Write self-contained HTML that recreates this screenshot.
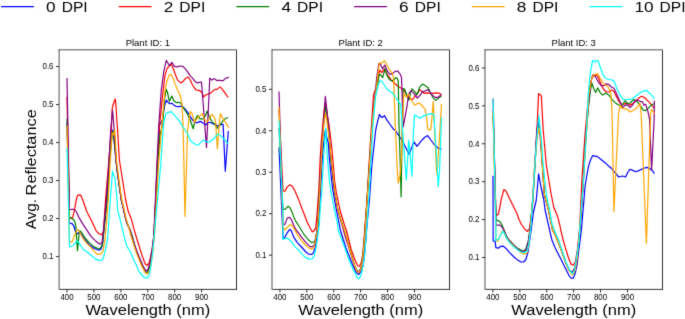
<!DOCTYPE html><html><head><meta charset="utf-8"><style>html,body{margin:0;padding:0;background:#fff;width:685px;height:319px;overflow:hidden}svg{display:block;will-change:transform}text{font-family:"Liberation Sans",sans-serif;fill:#000}</style></head><body>
<svg width="685" height="319" viewBox="0 0 685 319">
<defs>
<filter id="bl" x="0" y="0" width="685" height="319" filterUnits="userSpaceOnUse" color-interpolation-filters="sRGB"><feConvolveMatrix order="3" kernelMatrix="0.01134 0.08382 0.01134 0.08382 0.61935 0.08382 0.01134 0.08382 0.01134" edgeMode="none" preserveAlpha="false"/></filter>
<clipPath id="c0"><rect x="59.10" y="49.85" width="177.40" height="239.55"/></clipPath>
<clipPath id="c1"><rect x="272.00" y="49.85" width="177.50" height="239.55"/></clipPath>
<clipPath id="c2"><rect x="485.00" y="49.85" width="177.50" height="239.55"/></clipPath>
</defs>
<rect width="685" height="319" fill="#fff"/>
<g filter="url(#bl)">
<line x1="1.05" y1="6.6" x2="33.85" y2="6.6" stroke="#0000ff" stroke-width="1.05"/>
<text x="46.05" y="12.0" font-size="15.3" textLength="9.6" lengthAdjust="spacingAndGlyphs">0</text>
<text x="61.65" y="12.0" font-size="15.3" textLength="26.0" lengthAdjust="spacingAndGlyphs">DPI</text>
<line x1="118.74" y1="6.6" x2="151.54" y2="6.6" stroke="#ff0000" stroke-width="1.05"/>
<text x="163.74" y="12.0" font-size="15.3" textLength="9.6" lengthAdjust="spacingAndGlyphs">2</text>
<text x="179.34" y="12.0" font-size="15.3" textLength="26.0" lengthAdjust="spacingAndGlyphs">DPI</text>
<line x1="236.43" y1="6.6" x2="269.23" y2="6.6" stroke="#008000" stroke-width="1.05"/>
<text x="281.43" y="12.0" font-size="15.3" textLength="9.6" lengthAdjust="spacingAndGlyphs">4</text>
<text x="297.03" y="12.0" font-size="15.3" textLength="26.0" lengthAdjust="spacingAndGlyphs">DPI</text>
<line x1="354.12" y1="6.6" x2="386.92" y2="6.6" stroke="#800080" stroke-width="1.05"/>
<text x="399.12" y="12.0" font-size="15.3" textLength="9.6" lengthAdjust="spacingAndGlyphs">6</text>
<text x="414.72" y="12.0" font-size="15.3" textLength="26.0" lengthAdjust="spacingAndGlyphs">DPI</text>
<line x1="471.81" y1="6.6" x2="504.61" y2="6.6" stroke="#ffa500" stroke-width="1.05"/>
<text x="516.81" y="12.0" font-size="15.3" textLength="9.6" lengthAdjust="spacingAndGlyphs">8</text>
<text x="532.41" y="12.0" font-size="15.3" textLength="26.0" lengthAdjust="spacingAndGlyphs">DPI</text>
<line x1="589.50" y1="6.6" x2="622.30" y2="6.6" stroke="#00ffff" stroke-width="1.05"/>
<text x="634.50" y="12.0" font-size="15.3" textLength="19.2" lengthAdjust="spacingAndGlyphs">10</text>
<text x="659.50" y="12.0" font-size="15.3" textLength="26.0" lengthAdjust="spacingAndGlyphs">DPI</text>
<g clip-path="url(#c0)" fill="none" stroke-width="1.2" stroke-linejoin="round" stroke-linecap="butt">
<polyline points="67.00,123.0 69.50,223.2 72.20,223.6 74.00,226.4 75.30,231.3 77.00,234.0 79.50,232.0 81.60,234.5 84.70,239.5 89.10,244.6 94.10,248.5 99.10,250.3 101.00,249.0 102.50,245.0 105.50,215.0 108.50,175.0 110.50,150.0 112.50,130.0 113.60,134.0 115.00,150.0 117.00,170.0 121.30,200.0 123.20,207.5 125.10,216.3 127.00,223.2 130.10,230.0 132.60,237.6 136.00,250.0 139.50,259.0 142.80,267.0 145.50,272.0 147.50,272.0 150.10,264.0 152.50,250.0 154.00,235.0 157.50,165.0 159.50,125.0 162.50,120.1 164.40,106.3 166.30,100.0 168.20,102.6 170.00,103.8 171.90,103.2 173.80,105.1 175.70,106.3 178.20,106.6 181.30,106.3 183.80,107.6 187.00,111.3 190.10,116.3 192.60,120.1 195.00,122.6 197.50,122.6 200.00,121.4 202.50,122.6 205.50,125.0 208.00,122.5 210.50,122.5 213.00,123.8 215.60,124.4 218.10,126.3 221.20,124.4 223.10,124.4 225.30,171.3 228.30,131.0" stroke="#0000ff"/>
<polyline points="67.00,97.0 69.50,218.2 72.50,218.2 74.70,208.8 76.50,198.8 77.50,195.3 80.30,194.8 81.60,196.9 84.10,203.8 86.60,211.3 90.30,218.2 93.50,225.1 96.00,230.6 99.10,233.8 101.60,234.8 103.50,231.3 105.50,200.0 108.50,165.0 111.30,130.0 112.30,107.6 112.90,105.7 114.40,100.7 115.30,99.0 116.00,106.3 116.90,121.3 117.60,130.0 119.40,160.0 125.70,200.0 128.20,211.3 131.30,218.8 133.90,228.8 135.70,235.0 138.80,245.0 141.90,255.1 145.10,263.8 147.00,265.3 148.90,263.5 150.60,257.0 152.40,247.0 153.90,235.0 157.20,165.0 159.60,125.0 163.20,90.0 165.00,75.1 166.90,68.8 168.80,66.3 171.30,64.4 173.20,68.2 175.10,73.8 177.60,80.1 180.70,82.9 183.20,81.3 185.70,78.2 188.20,77.0 190.00,79.5 192.50,85.0 194.50,88.0 196.30,90.0 199.40,90.6 201.90,92.5 203.80,96.9 205.70,95.0 208.20,94.0 210.70,93.2 213.20,90.6 215.10,89.4 217.00,89.4 220.10,86.9 222.00,88.8 225.10,93.2 228.20,97.5" stroke="#ff0000"/>
<polyline points="67.00,118.8 69.50,217.0 71.50,218.2 74.00,220.1 75.30,223.2 75.90,227.6 77.50,250.7 79.00,235.0 79.70,230.6 81.60,232.5 84.70,237.5 89.10,242.6 94.10,246.9 98.50,248.8 100.40,248.2 102.20,245.1 105.00,220.0 107.50,200.0 109.60,160.0 111.50,138.0 112.60,131.0 113.60,135.0 115.00,150.0 117.00,170.0 121.30,200.0 123.20,207.5 125.10,216.3 127.00,223.2 130.10,230.0 132.60,237.6 136.00,250.0 139.50,259.0 142.80,267.0 145.50,272.5 147.50,272.5 150.10,265.0 152.50,251.0 154.20,235.0 157.80,165.0 160.00,135.0 162.50,125.0 164.40,100.0 166.30,89.4 167.50,92.5 169.40,101.3 171.90,96.0 173.80,100.7 176.30,102.6 178.80,102.3 180.70,103.2 182.00,105.7 184.50,109.5 187.60,114.5 190.40,120.5 193.20,128.8 195.10,120.0 197.50,115.5 200.00,118.9 203.00,118.8 205.50,115.6 207.20,111.0 209.30,116.9 211.80,121.3 214.30,123.8 217.40,128.2 219.90,125.0 222.50,121.3 225.00,118.8 228.10,117.5" stroke="#008000"/>
<polyline points="67.00,78.0 69.50,209.5 74.00,209.4 76.50,211.9 79.00,217.6 82.80,223.9 87.20,230.6 91.00,236.3 95.30,240.7 99.10,243.8 101.00,243.8 102.20,241.3 104.00,225.0 106.30,200.0 108.80,165.0 110.70,130.0 112.50,110.5 113.20,117.0 114.00,128.0 116.00,160.0 118.50,180.0 121.30,200.0 123.20,207.5 125.10,216.3 127.00,223.2 130.10,230.0 131.30,235.0 135.00,246.3 138.80,256.3 142.60,265.1 145.70,270.7 147.60,270.1 150.10,262.6 152.40,247.5 153.90,235.0 156.90,165.0 158.80,125.0 161.30,90.0 163.80,71.3 166.30,60.3 169.40,65.7 171.90,62.3 174.50,66.3 177.00,66.9 180.10,66.0 182.90,66.3 185.70,69.4 188.20,72.6 190.00,75.7 192.50,78.2 195.00,81.3 196.90,82.9 199.40,82.4 201.50,82.0 206.50,147.5 209.80,78.2 211.90,80.1 214.50,78.6 217.00,80.7 218.80,80.1 220.70,80.7 223.20,80.7 225.70,78.2 227.60,77.6 228.90,77.3" stroke="#800080"/>
<polyline points="67.00,125.5 69.50,241.9 72.20,241.9 74.70,235.0 77.20,229.4 78.40,230.0 80.30,233.2 82.80,238.2 86.60,243.2 91.60,248.2 95.30,252.6 97.90,254.5 101.00,253.8 102.90,251.3 105.00,240.0 108.20,200.0 110.00,165.0 112.20,133.0 113.50,135.0 114.80,130.0 116.50,160.0 119.00,180.0 121.80,200.0 123.70,207.5 125.60,216.3 127.50,223.2 129.50,230.0 130.70,235.0 136.30,252.6 141.30,265.1 145.10,272.6 147.60,273.9 150.10,268.9 152.60,253.8 154.50,235.0 158.50,165.0 161.90,125.0 165.00,90.0 166.90,81.3 169.40,74.5 171.30,75.1 173.20,78.8 175.10,83.9 177.60,90.0 180.10,95.0 182.00,103.8 183.20,130.0 185.00,216.4 187.60,130.0 190.10,111.5 191.90,113.2 194.40,122.6 196.90,118.9 199.50,116.0 202.40,113.8 204.30,118.8 206.80,121.9 209.30,118.8 211.80,114.4 214.30,116.9 215.60,121.9 217.40,148.8 219.30,122.5 220.40,113.7 223.10,118.8 225.60,122.5 228.70,127.6" stroke="#ffa500"/>
<polyline points="67.00,147.5 69.50,246.3 71.50,246.6 73.40,245.1 76.50,241.1 78.40,241.9 80.30,245.1 83.40,249.5 87.20,252.0 91.60,255.7 95.30,258.9 98.50,260.4 101.60,260.1 103.50,257.6 107.50,240.0 110.30,200.0 112.50,171.3 115.00,178.8 116.90,197.6 117.60,210.0 120.00,218.8 122.60,230.0 124.50,237.6 126.90,246.3 130.00,251.3 133.80,260.1 136.30,265.0 138.80,271.4 141.00,274.0 144.50,277.6 147.00,278.2 148.80,276.3 150.70,267.5 152.40,255.0 160.70,165.0 163.50,125.0 165.70,113.8 167.50,112.6 171.30,111.6 174.40,115.1 177.60,118.9 180.70,122.6 181.50,125.0 185.10,130.0 187.60,133.8 190.10,140.1 192.60,142.6 195.70,144.5 198.20,145.1 200.70,142.6 203.00,140.1 205.50,141.3 208.00,142.0 210.50,141.3 213.00,139.5 215.60,136.3 217.80,133.8 219.90,135.1 222.50,137.6 225.00,140.1 228.10,143.9" stroke="#00ffff"/>
</g>
<path d="M59.10,49.45 V289.79999999999995 M58.70,49.85 H236.90" fill="none" stroke="#000" stroke-opacity="0.86" stroke-width="0.8"/>
<path d="M236.50,50.25 V289.79999999999995 M59.50,289.4 H236.90" fill="none" stroke="#000" stroke-width="0.8"/>
<line x1="56.00" y1="256.58" x2="59.10" y2="256.58" stroke="#000" stroke-width="0.8"/>
<text x="53.50" y="259.33" font-size="8.4" text-anchor="end" textLength="11.0" lengthAdjust="spacingAndGlyphs">0.1</text>
<line x1="56.00" y1="218.57" x2="59.10" y2="218.57" stroke="#000" stroke-width="0.8"/>
<text x="53.50" y="221.32" font-size="8.4" text-anchor="end" textLength="11.0" lengthAdjust="spacingAndGlyphs">0.2</text>
<line x1="56.00" y1="180.57" x2="59.10" y2="180.57" stroke="#000" stroke-width="0.8"/>
<text x="53.50" y="183.32" font-size="8.4" text-anchor="end" textLength="11.0" lengthAdjust="spacingAndGlyphs">0.3</text>
<line x1="56.00" y1="142.56" x2="59.10" y2="142.56" stroke="#000" stroke-width="0.8"/>
<text x="53.50" y="145.31" font-size="8.4" text-anchor="end" textLength="11.0" lengthAdjust="spacingAndGlyphs">0.4</text>
<line x1="56.00" y1="104.56" x2="59.10" y2="104.56" stroke="#000" stroke-width="0.8"/>
<text x="53.50" y="107.31" font-size="8.4" text-anchor="end" textLength="11.0" lengthAdjust="spacingAndGlyphs">0.5</text>
<line x1="56.00" y1="66.55" x2="59.10" y2="66.55" stroke="#000" stroke-width="0.8"/>
<text x="53.50" y="69.30" font-size="8.4" text-anchor="end" textLength="11.0" lengthAdjust="spacingAndGlyphs">0.6</text>
<line x1="67.00" y1="289.4" x2="67.00" y2="292.50" stroke="#000" stroke-width="0.8"/>
<text x="67.00" y="299.80" font-size="8.4" text-anchor="middle" textLength="13.2" lengthAdjust="spacingAndGlyphs">400</text>
<line x1="93.92" y1="289.4" x2="93.92" y2="292.50" stroke="#000" stroke-width="0.8"/>
<text x="93.92" y="299.80" font-size="8.4" text-anchor="middle" textLength="13.2" lengthAdjust="spacingAndGlyphs">500</text>
<line x1="120.84" y1="289.4" x2="120.84" y2="292.50" stroke="#000" stroke-width="0.8"/>
<text x="120.84" y="299.80" font-size="8.4" text-anchor="middle" textLength="13.2" lengthAdjust="spacingAndGlyphs">600</text>
<line x1="147.76" y1="289.4" x2="147.76" y2="292.50" stroke="#000" stroke-width="0.8"/>
<text x="147.76" y="299.80" font-size="8.4" text-anchor="middle" textLength="13.2" lengthAdjust="spacingAndGlyphs">700</text>
<line x1="174.68" y1="289.4" x2="174.68" y2="292.50" stroke="#000" stroke-width="0.8"/>
<text x="174.68" y="299.80" font-size="8.4" text-anchor="middle" textLength="13.2" lengthAdjust="spacingAndGlyphs">800</text>
<line x1="201.60" y1="289.4" x2="201.60" y2="292.50" stroke="#000" stroke-width="0.8"/>
<text x="201.60" y="299.80" font-size="8.4" text-anchor="middle" textLength="13.2" lengthAdjust="spacingAndGlyphs">900</text>
<text x="147.80" y="46.2" font-size="9.8" text-anchor="middle" textLength="44.3" lengthAdjust="spacingAndGlyphs">Plant ID: 1</text>
<text x="147.80" y="315.4" font-size="14" text-anchor="middle" textLength="124.8" lengthAdjust="spacingAndGlyphs">Wavelength (nm)</text>
<g clip-path="url(#c1)" fill="none" stroke-width="1.2" stroke-linejoin="round" stroke-linecap="butt">
<polyline points="279.00,147.5 283.00,238.2 284.80,237.6 287.30,232.6 289.80,229.4 291.30,230.7 293.60,236.9 297.30,242.6 301.10,246.5 305.40,251.5 308.50,254.1 311.70,254.5 313.60,252.6 315.40,246.3 317.30,235.0 318.60,225.0 320.00,200.0 322.20,160.0 323.80,142.0 325.50,129.0 326.80,138.0 328.30,142.6 329.30,157.6 331.60,180.0 332.80,190.0 336.00,208.0 339.40,225.0 340.30,230.0 346.00,248.0 352.60,265.0 356.00,272.0 358.70,274.6 361.20,271.0 363.20,265.0 365.00,250.0 367.00,225.0 369.40,200.0 371.90,165.0 375.70,130.0 377.60,121.3 379.40,114.5 381.90,117.6 384.50,115.7 387.00,120.1 390.10,124.5 393.20,128.9 395.00,130.0 397.60,133.8 400.10,137.5 402.60,141.3 405.10,146.3 407.60,151.3 409.10,154.5 410.70,150.1 412.60,145.1 413.90,141.9 417.00,146.3 420.80,141.3 424.50,137.5 427.70,135.6 430.80,140.0 434.60,145.0 438.30,148.2 441.60,149.4" stroke="#0000ff"/>
<polyline points="279.00,110.0 283.00,190.7 284.80,191.3 287.30,186.9 290.00,184.8 292.30,186.3 294.80,190.7 297.30,196.3 299.80,202.6 302.30,209.5 304.80,215.7 307.30,222.5 310.50,228.8 312.40,231.9 314.20,230.6 315.80,227.5 317.00,215.0 318.80,190.0 320.10,160.0 321.20,142.6 323.20,120.0 324.80,104.0 325.60,103.0 326.50,110.0 329.00,125.0 331.20,142.6 332.70,157.6 334.50,180.0 336.20,192.0 340.00,210.0 344.40,225.0 346.30,230.0 351.30,250.0 355.00,260.0 357.60,265.7 359.40,266.3 361.30,262.5 362.60,255.0 363.20,250.0 365.10,225.0 367.00,200.0 369.00,165.0 371.20,130.0 373.50,95.0 377.50,83.8 378.80,73.8 380.00,70.0 381.90,72.6 384.40,68.8 386.30,72.6 388.20,75.7 391.30,80.1 395.10,83.8 398.90,87.0 401.30,88.2 403.80,90.1 405.50,93.0 407.50,96.3 410.00,98.8 412.50,99.5 415.00,96.3 417.60,93.2 419.70,89.6 422.10,91.5 424.40,93.3 427.20,92.9 430.10,93.3 432.90,93.3 435.70,92.9 439.50,93.3 441.50,94.8" stroke="#ff0000"/>
<polyline points="279.00,128.0 283.00,209.5 285.40,209.1 287.90,206.3 289.80,207.6 291.70,211.3 293.60,216.4 295.40,220.6 299.80,227.5 303.60,233.8 308.00,239.5 311.70,242.6 313.60,242.0 314.80,241.3 316.70,232.5 317.90,225.0 319.30,195.0 321.20,160.0 322.20,142.6 323.60,125.0 325.20,106.0 326.70,114.0 328.60,130.0 330.50,155.0 334.60,192.0 338.00,210.0 342.50,225.0 344.20,230.0 350.00,250.0 354.80,266.0 357.00,270.5 358.60,272.0 360.80,268.5 362.80,257.0 364.30,240.0 366.30,210.0 368.40,180.0 370.40,150.0 372.50,120.0 374.80,100.0 376.50,90.0 378.20,80.1 379.40,73.8 381.30,75.7 382.60,77.6 385.10,68.8 386.90,75.1 388.80,78.8 391.30,80.7 393.80,80.1 395.70,77.6 397.60,78.8 398.30,82.0 399.00,125.0 400.30,165.0 401.10,197.0 401.60,165.0 402.30,125.0 403.10,88.8 404.40,88.8 406.30,93.8 408.80,100.1 410.70,92.6 411.90,88.8 413.80,90.7 415.00,91.9 416.90,94.8 419.70,87.2 422.50,84.1 425.30,85.8 428.20,87.7 430.10,91.9 432.90,97.6 435.70,100.4 438.50,98.0 441.40,96.2" stroke="#008000"/>
<polyline points="279.00,91.6 283.00,225.0 284.80,224.4 287.30,218.1 289.50,217.3 291.30,219.4 293.60,225.0 296.10,230.0 299.20,233.8 302.30,238.2 306.10,242.6 309.80,246.3 312.30,246.9 314.20,245.1 316.30,235.0 317.30,225.0 319.30,195.0 321.10,160.0 322.10,142.6 323.50,125.0 325.30,96.3 327.20,113.0 328.90,130.0 330.60,155.0 334.50,192.0 338.00,211.0 342.30,226.0 346.00,239.0 350.00,251.0 354.50,266.0 357.00,270.8 358.60,272.3 360.90,268.8 362.90,257.0 364.40,240.0 366.40,210.0 368.40,180.0 370.40,150.0 372.40,120.0 374.30,100.0 375.00,95.0 376.90,76.3 378.80,63.8 380.00,63.2 381.30,66.3 382.60,68.8 384.80,65.0 386.30,68.8 388.20,72.6 390.70,74.4 393.20,73.2 395.10,71.3 397.60,71.0 400.00,73.8 401.50,77.6 403.20,127.0 407.00,106.3 408.50,95.0 409.40,92.6 411.30,90.7 413.80,93.2 415.00,95.2 417.40,98.0 420.20,95.2 422.50,91.9 425.30,91.0 427.70,89.6 429.60,91.5 431.90,94.8 434.80,97.1 437.60,97.6 439.90,95.7 441.50,94.8" stroke="#800080"/>
<polyline points="279.00,106.7 283.00,226.9 284.80,230.0 287.30,227.5 290.40,224.4 292.30,225.7 294.80,230.0 297.90,235.7 301.10,240.1 304.80,244.5 308.60,247.6 311.70,249.1 314.20,247.6 315.40,240.0 317.30,230.0 319.30,200.0 321.40,160.0 322.40,142.6 323.80,125.0 325.50,113.0 326.70,120.0 328.30,132.0 329.70,142.6 331.20,157.6 333.80,180.0 334.90,192.0 338.00,210.0 342.50,225.0 344.40,230.0 350.00,250.0 354.70,266.0 357.00,271.3 358.60,272.8 360.80,269.5 362.80,258.0 364.50,240.0 366.50,210.0 368.50,180.0 370.50,150.0 372.50,120.0 375.30,95.0 377.30,80.0 378.90,66.0 379.80,62.8 381.40,63.2 383.20,62.0 384.30,60.6 386.30,63.8 388.20,67.5 390.10,70.7 392.50,73.2 393.60,78.0 395.50,130.0 397.30,170.0 398.20,183.2 400.00,175.7 401.30,160.0 402.50,120.0 403.80,93.8 405.00,95.7 406.90,97.0 408.20,94.5 409.50,96.0 410.70,98.8 412.50,102.0 414.50,105.0 417.00,103.8 419.50,103.2 422.70,106.3 425.20,109.4 426.40,116.3 427.70,128.9 429.60,130.1 430.80,129.5 432.10,116.3 433.30,101.3 434.80,135.0 436.50,170.0 437.10,175.0 439.30,140.0 441.50,103.8" stroke="#ffa500"/>
<polyline points="279.00,120.5 283.00,215.0 282.90,239.5 286.00,238.2 288.50,238.8 291.70,242.0 294.80,246.3 296.00,247.6 299.80,251.3 303.50,255.7 306.70,258.2 309.80,259.1 312.30,258.9 314.20,256.3 316.10,247.6 317.90,235.0 319.20,225.0 320.50,205.0 321.60,195.0 323.70,157.0 324.60,142.0 325.70,128.2 326.50,142.6 327.40,157.6 329.30,180.0 330.70,190.0 334.00,208.0 337.80,225.0 338.20,230.0 345.60,250.0 350.00,262.5 354.40,271.9 357.60,278.0 359.20,278.7 361.30,274.5 363.20,265.0 364.50,256.3 365.10,250.0 367.00,225.0 369.30,190.0 371.00,160.0 373.00,125.0 375.70,95.0 378.20,85.1 380.00,80.7 381.90,81.3 383.80,84.5 386.30,88.2 388.80,90.7 390.10,91.3 393.20,93.8 395.70,97.5 398.80,101.9 400.70,104.4 402.60,130.0 406.30,180.0 408.80,140.0 412.00,176.3 413.50,130.0 414.50,115.1 417.00,116.3 419.50,118.2 422.00,116.9 425.80,115.1 429.60,113.8 432.70,113.6 433.90,115.1 435.20,135.0 438.30,186.3 439.60,170.0 441.50,117.6" stroke="#00ffff"/>
</g>
<path d="M272.00,49.45 V289.79999999999995 M271.60,49.85 H449.90" fill="none" stroke="#000" stroke-opacity="0.86" stroke-width="0.8"/>
<path d="M449.50,50.25 V289.79999999999995 M272.40,289.4 H449.90" fill="none" stroke="#000" stroke-width="0.8"/>
<line x1="268.90" y1="255.17" x2="272.00" y2="255.17" stroke="#000" stroke-width="0.8"/>
<text x="266.40" y="257.92" font-size="8.4" text-anchor="end" textLength="11.0" lengthAdjust="spacingAndGlyphs">0.1</text>
<line x1="268.90" y1="213.71" x2="272.00" y2="213.71" stroke="#000" stroke-width="0.8"/>
<text x="266.40" y="216.46" font-size="8.4" text-anchor="end" textLength="11.0" lengthAdjust="spacingAndGlyphs">0.2</text>
<line x1="268.90" y1="172.25" x2="272.00" y2="172.25" stroke="#000" stroke-width="0.8"/>
<text x="266.40" y="175.00" font-size="8.4" text-anchor="end" textLength="11.0" lengthAdjust="spacingAndGlyphs">0.3</text>
<line x1="268.90" y1="130.79" x2="272.00" y2="130.79" stroke="#000" stroke-width="0.8"/>
<text x="266.40" y="133.54" font-size="8.4" text-anchor="end" textLength="11.0" lengthAdjust="spacingAndGlyphs">0.4</text>
<line x1="268.90" y1="89.33" x2="272.00" y2="89.33" stroke="#000" stroke-width="0.8"/>
<text x="266.40" y="92.08" font-size="8.4" text-anchor="end" textLength="11.0" lengthAdjust="spacingAndGlyphs">0.5</text>
<line x1="279.90" y1="289.4" x2="279.90" y2="292.50" stroke="#000" stroke-width="0.8"/>
<text x="279.90" y="299.80" font-size="8.4" text-anchor="middle" textLength="13.2" lengthAdjust="spacingAndGlyphs">400</text>
<line x1="306.82" y1="289.4" x2="306.82" y2="292.50" stroke="#000" stroke-width="0.8"/>
<text x="306.82" y="299.80" font-size="8.4" text-anchor="middle" textLength="13.2" lengthAdjust="spacingAndGlyphs">500</text>
<line x1="333.74" y1="289.4" x2="333.74" y2="292.50" stroke="#000" stroke-width="0.8"/>
<text x="333.74" y="299.80" font-size="8.4" text-anchor="middle" textLength="13.2" lengthAdjust="spacingAndGlyphs">600</text>
<line x1="360.66" y1="289.4" x2="360.66" y2="292.50" stroke="#000" stroke-width="0.8"/>
<text x="360.66" y="299.80" font-size="8.4" text-anchor="middle" textLength="13.2" lengthAdjust="spacingAndGlyphs">700</text>
<line x1="387.58" y1="289.4" x2="387.58" y2="292.50" stroke="#000" stroke-width="0.8"/>
<text x="387.58" y="299.80" font-size="8.4" text-anchor="middle" textLength="13.2" lengthAdjust="spacingAndGlyphs">800</text>
<line x1="414.50" y1="289.4" x2="414.50" y2="292.50" stroke="#000" stroke-width="0.8"/>
<text x="414.50" y="299.80" font-size="8.4" text-anchor="middle" textLength="13.2" lengthAdjust="spacingAndGlyphs">900</text>
<text x="360.75" y="46.2" font-size="9.8" text-anchor="middle" textLength="44.3" lengthAdjust="spacingAndGlyphs">Plant ID: 2</text>
<text x="360.75" y="315.4" font-size="14" text-anchor="middle" textLength="124.8" lengthAdjust="spacingAndGlyphs">Wavelength (nm)</text>
<g clip-path="url(#c2)" fill="none" stroke-width="1.2" stroke-linejoin="round" stroke-linecap="butt">
<polyline points="493.00,175.7 493.20,241.0 495.20,241.3 495.80,247.6 498.30,248.2 500.80,246.3 503.30,246.1 505.80,248.2 509.60,252.6 514.00,257.0 517.70,260.1 520.90,262.0 523.40,262.0 525.90,259.5 528.00,252.0 530.50,235.0 533.50,212.0 536.30,200.0 538.60,173.8 541.00,187.0 543.80,200.0 545.10,210.0 548.20,223.8 550.70,235.0 551.90,240.0 555.00,247.6 558.80,255.1 562.60,262.6 565.00,267.5 569.40,276.3 571.30,278.2 573.20,278.2 575.10,273.8 577.00,265.0 578.20,255.0 581.40,230.0 583.50,205.0 585.20,185.0 586.90,175.0 588.80,165.1 590.70,159.5 592.60,155.7 595.10,156.1 597.60,156.6 600.10,158.8 602.60,160.7 605.70,163.2 608.20,165.7 611.40,168.2 613.90,171.4 615.00,172.6 618.80,177.0 622.60,176.0 625.60,177.0 628.00,172.0 630.00,169.3 632.80,170.4 635.60,171.7 639.40,170.4 643.20,168.5 646.90,167.4 649.70,168.5 652.60,170.8 654.40,173.6" stroke="#0000ff"/>
<polyline points="493.10,110.0 496.00,214.0 496.40,215.1 498.30,214.4 499.50,208.8 500.80,201.3 502.00,196.3 503.90,189.5 505.80,190.7 507.70,194.5 509.60,198.8 512.10,203.8 514.60,208.8 517.10,213.8 519.00,219.5 521.50,224.5 524.60,228.9 525.50,229.8 527.50,231.4 529.40,228.9 530.60,220.1 532.50,207.5 533.20,195.0 535.10,165.0 536.90,130.0 538.60,93.5 541.30,95.6 543.20,130.0 546.30,165.0 551.30,195.0 553.80,207.5 557.60,216.3 560.10,226.3 560.70,230.0 563.20,240.0 565.70,248.8 568.80,258.8 571.30,264.5 573.20,265.1 575.10,262.6 577.00,252.6 578.20,242.5 579.50,230.0 582.00,178.0 585.00,135.0 587.50,107.0 589.50,88.0 591.50,79.0 593.50,76.0 595.70,75.1 597.60,76.3 599.40,80.1 601.30,85.1 603.80,89.5 606.30,92.0 608.80,92.0 611.30,90.0 613.80,91.3 616.30,96.3 619.50,102.6 622.00,104.5 624.50,103.8 627.60,103.2 630.10,105.1 632.60,103.8 636.30,100.7 639.40,97.5 641.90,96.3 644.40,97.5 647.60,100.7 650.70,103.8 653.20,107.0 654.30,108.2" stroke="#ff0000"/>
<polyline points="493.10,116.0 496.00,219.0 495.80,220.1 498.30,220.7 500.20,222.0 502.00,225.1 503.30,228.2 506.40,236.0 509.60,240.5 513.30,244.5 517.10,248.0 520.90,250.1 523.40,251.3 526.00,249.0 528.50,240.0 530.50,225.0 532.80,200.0 535.20,160.0 537.20,130.0 538.80,124.0 540.40,135.0 542.00,160.0 544.40,195.0 548.20,208.8 551.30,223.8 552.50,230.0 554.50,232.6 556.30,237.5 558.80,243.8 562.60,253.8 565.70,262.6 568.80,269.5 572.40,272.5 575.00,268.0 577.00,258.0 579.00,240.0 581.00,215.0 583.00,185.0 585.30,145.0 586.50,130.0 588.50,107.0 590.50,90.0 591.90,83.2 593.80,88.8 595.70,92.6 597.60,87.9 600.20,92.6 602.50,95.1 605.70,93.2 608.80,95.1 612.60,100.1 615.70,103.2 618.80,105.1 621.30,105.7 623.20,103.8 625.10,100.7 627.60,103.8 630.10,103.0 633.80,99.4 636.90,101.3 640.00,105.1 643.20,110.1 645.70,110.7 648.80,107.6 651.30,105.1 653.80,103.8" stroke="#008000"/>
<polyline points="493.10,98.5 496.00,224.0 495.80,225.1 499.50,225.1 501.40,226.3 503.30,229.0 506.40,236.5 509.60,241.0 513.30,245.0 517.10,248.5 520.90,251.0 523.40,252.0 526.00,250.0 528.50,241.0 530.50,225.0 532.60,200.0 535.00,160.0 536.80,130.0 538.30,121.0 540.00,135.0 542.00,160.0 544.40,195.0 548.20,208.8 551.30,223.8 552.50,230.0 556.30,237.5 558.80,243.8 562.60,253.8 565.70,262.6 568.80,270.0 572.20,272.5 575.00,267.0 577.00,257.0 579.00,238.0 581.00,215.0 583.00,188.0 585.00,150.0 586.30,130.0 588.30,107.0 590.50,85.0 592.50,75.1 594.40,75.1 596.30,78.2 598.80,82.6 601.30,85.7 603.80,85.7 606.30,83.8 608.80,84.5 611.30,87.0 613.90,88.2 615.10,90.7 617.60,96.3 620.10,102.0 622.60,107.6 625.10,105.1 627.60,104.8 630.00,107.6 632.50,105.1 635.00,100.7 637.50,100.0 640.00,101.3 642.60,101.9 643.80,105.1 645.70,104.4 647.60,110.1 649.50,118.9 651.60,170.0 654.10,120.0 654.40,100.7" stroke="#800080"/>
<polyline points="493.10,113.0 496.00,240.7 497.70,241.3 499.50,237.5 502.00,231.3 503.90,232.5 505.80,236.9 509.60,241.9 513.30,245.7 517.10,249.5 520.90,252.6 524.00,254.1 527.00,253.2 528.80,245.0 530.50,228.0 532.60,200.0 535.00,160.0 537.60,135.0 539.20,128.0 540.60,138.0 542.00,160.0 544.40,195.0 548.20,208.8 551.30,223.8 552.50,230.0 556.30,237.5 558.80,243.8 562.60,253.8 565.70,262.6 568.80,270.0 572.60,275.1 575.30,270.0 577.20,258.0 579.00,238.0 581.00,212.0 583.00,188.0 585.20,150.0 586.70,130.0 588.80,95.0 591.30,80.1 593.20,75.1 595.70,74.4 597.60,73.6 600.10,78.2 602.60,82.6 605.10,85.1 607.60,86.3 609.50,89.5 610.70,92.6 612.00,110.0 613.90,211.6 618.50,115.0 620.10,105.1 622.00,108.2 625.10,108.9 627.50,109.5 630.00,112.0 632.50,110.7 635.00,109.5 637.50,107.0 640.00,103.2 641.20,115.0 646.40,243.3 650.60,115.0 651.30,109.5 653.00,111.0 654.40,113.8" stroke="#ffa500"/>
<polyline points="493.10,99.0 496.00,235.0 495.20,240.7 498.90,238.8 500.80,235.0 502.70,231.3 504.60,233.8 506.40,238.2 509.60,242.6 513.30,246.3 517.10,249.5 520.90,252.0 524.00,252.6 527.00,251.3 529.00,243.0 531.00,225.0 533.00,195.0 536.30,145.0 538.80,115.5 541.90,145.0 542.80,160.0 546.30,195.0 549.50,208.8 552.00,223.8 554.40,230.0 555.10,232.6 558.20,238.8 562.00,250.0 566.00,262.0 569.50,270.0 572.60,273.8 574.50,270.0 578.90,242.5 580.70,215.0 583.50,180.0 586.00,140.0 588.20,95.0 590.00,75.1 592.50,60.6 595.00,61.9 597.60,60.3 598.80,62.5 600.70,68.8 603.20,75.1 605.70,78.2 608.80,79.5 612.00,79.8 614.50,82.0 616.90,88.8 620.10,95.1 622.60,98.8 625.70,99.5 628.80,99.4 632.50,98.8 635.70,96.3 638.80,93.8 642.60,91.3 646.30,90.3 649.50,93.2 652.00,95.7 654.40,98.8" stroke="#00ffff"/>
</g>
<path d="M485.00,49.45 V289.79999999999995 M484.60,49.85 H662.90" fill="none" stroke="#000" stroke-opacity="0.86" stroke-width="0.8"/>
<path d="M662.50,50.25 V289.79999999999995 M485.40,289.4 H662.90" fill="none" stroke="#000" stroke-width="0.8"/>
<line x1="481.90" y1="257.49" x2="485.00" y2="257.49" stroke="#000" stroke-width="0.8"/>
<text x="479.40" y="260.24" font-size="8.4" text-anchor="end" textLength="11.0" lengthAdjust="spacingAndGlyphs">0.1</text>
<line x1="481.90" y1="219.58" x2="485.00" y2="219.58" stroke="#000" stroke-width="0.8"/>
<text x="479.40" y="222.33" font-size="8.4" text-anchor="end" textLength="11.0" lengthAdjust="spacingAndGlyphs">0.2</text>
<line x1="481.90" y1="181.67" x2="485.00" y2="181.67" stroke="#000" stroke-width="0.8"/>
<text x="479.40" y="184.42" font-size="8.4" text-anchor="end" textLength="11.0" lengthAdjust="spacingAndGlyphs">0.3</text>
<line x1="481.90" y1="143.77" x2="485.00" y2="143.77" stroke="#000" stroke-width="0.8"/>
<text x="479.40" y="146.52" font-size="8.4" text-anchor="end" textLength="11.0" lengthAdjust="spacingAndGlyphs">0.4</text>
<line x1="481.90" y1="105.86" x2="485.00" y2="105.86" stroke="#000" stroke-width="0.8"/>
<text x="479.40" y="108.61" font-size="8.4" text-anchor="end" textLength="11.0" lengthAdjust="spacingAndGlyphs">0.5</text>
<line x1="481.90" y1="67.95" x2="485.00" y2="67.95" stroke="#000" stroke-width="0.8"/>
<text x="479.40" y="70.70" font-size="8.4" text-anchor="end" textLength="11.0" lengthAdjust="spacingAndGlyphs">0.6</text>
<line x1="492.90" y1="289.4" x2="492.90" y2="292.50" stroke="#000" stroke-width="0.8"/>
<text x="492.90" y="299.80" font-size="8.4" text-anchor="middle" textLength="13.2" lengthAdjust="spacingAndGlyphs">400</text>
<line x1="519.82" y1="289.4" x2="519.82" y2="292.50" stroke="#000" stroke-width="0.8"/>
<text x="519.82" y="299.80" font-size="8.4" text-anchor="middle" textLength="13.2" lengthAdjust="spacingAndGlyphs">500</text>
<line x1="546.74" y1="289.4" x2="546.74" y2="292.50" stroke="#000" stroke-width="0.8"/>
<text x="546.74" y="299.80" font-size="8.4" text-anchor="middle" textLength="13.2" lengthAdjust="spacingAndGlyphs">600</text>
<line x1="573.66" y1="289.4" x2="573.66" y2="292.50" stroke="#000" stroke-width="0.8"/>
<text x="573.66" y="299.80" font-size="8.4" text-anchor="middle" textLength="13.2" lengthAdjust="spacingAndGlyphs">700</text>
<line x1="600.58" y1="289.4" x2="600.58" y2="292.50" stroke="#000" stroke-width="0.8"/>
<text x="600.58" y="299.80" font-size="8.4" text-anchor="middle" textLength="13.2" lengthAdjust="spacingAndGlyphs">800</text>
<line x1="627.50" y1="289.4" x2="627.50" y2="292.50" stroke="#000" stroke-width="0.8"/>
<text x="627.50" y="299.80" font-size="8.4" text-anchor="middle" textLength="13.2" lengthAdjust="spacingAndGlyphs">900</text>
<text x="573.75" y="46.2" font-size="9.8" text-anchor="middle" textLength="44.3" lengthAdjust="spacingAndGlyphs">Plant ID: 3</text>
<text x="573.75" y="315.4" font-size="14" text-anchor="middle" textLength="124.8" lengthAdjust="spacingAndGlyphs">Wavelength (nm)</text>
<g transform="translate(36.3,0) rotate(-90)"><text x="-229.3" y="0" font-size="14" textLength="30.4" lengthAdjust="spacingAndGlyphs">Avg.</text><text x="-195.4" y="0" font-size="14" textLength="86.1" lengthAdjust="spacingAndGlyphs">Reflectance</text></g>
</g></svg></body></html>
